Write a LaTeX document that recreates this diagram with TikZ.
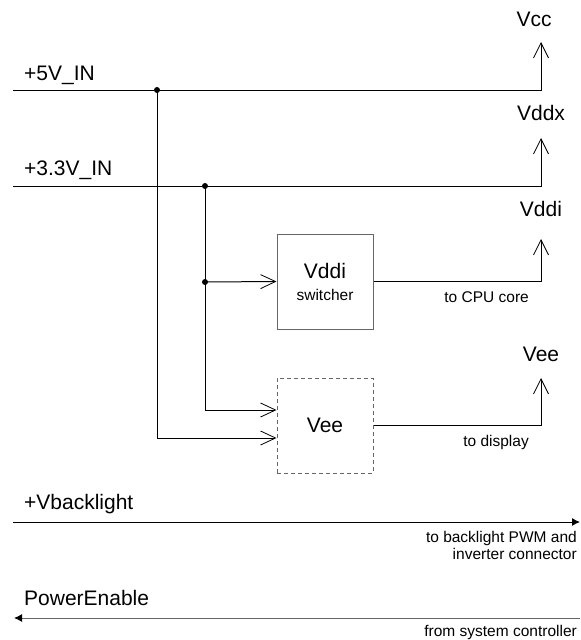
\documentclass[tikz,border=0pt]{standalone}
\usepackage{fontspec}
\setmainfont{Liberation Sans}
\usetikzlibrary{arrows.meta}

\begin{document}
\begin{tikzpicture}[
  x=1pt, y=-1pt,
  font=\fontsize{21}{25}\selectfont,
  small/.style={font=\fontsize{15.5}{17}\selectfont, inner sep=0pt},
  lbl/.style={inner sep=0pt, anchor=base west},
  rlbl/.style={inner sep=0pt, anchor=base},
  rail/.style={line width=1pt, black, -{Straight Barb[length=15pt,width=15pt,line width=0.8pt]}},
  feed/.style={line width=1pt, black, -{Straight Barb[length=15pt,width=14pt,line width=0.8pt]}},
  conv/.style={draw=black!60, line width=1pt, minimum width=96pt, minimum height=95pt,
               inner sep=0pt, align=center},
  maybe/.style={conv, dashed, dash pattern=on 4pt off 3pt},
  dot/.style={circle, fill=black, inner sep=0pt, minimum size=6pt},
  sig/.style={line width=1pt, -{Latex[length=8pt,width=8pt,color=black]}},
]
  \useasboundingbox (0,0) rectangle (581,640);

  % Input rails and their outputs
  \coordinate (in5) at (13,90);
  \coordinate (in33) at (13,186);
  \coordinate (vcctip) at (541,42);
  \coordinate (vddxtip) at (541,138);
  \coordinate (vdditip) at (541,239);
  \coordinate (veetip) at (541,378);
  \node[lbl] (l5) at (24,80) {+5V\_IN};
  \node[lbl] (l33) at (24,175) {+3.3V\_IN};
  \node[rlbl] (vcc) at (534,26) {Vcc};
  \node[rlbl] (vddx) at (541,120) {Vddx};
  \node[rlbl] (vddil) at (541,216) {Vddi};
  \node[rlbl] (veel) at (541,361) {Vee};

  \draw[rail] (in5) -| (vcctip);
  \draw[rail] (in33) -| (vddxtip);
  \node[dot] (j5) at (157,90) {};
  \node[dot] (j33) at (205,186) {};
  \node[dot] (j33b) at (205,282) {};

  % Converters
  \node[conv] (vddi) at (325,281.5) {Vddi\\[-3pt]{\fontsize{15.5}{17}\selectfont switcher}};
  \node[maybe] (vee) at (325,425.5) {Vee};

  \draw[line width=1pt] (j33.center) -- (j33b.center);
  \draw[feed] (j33b.center) -- (vddi.west);
  \draw[feed] (j33b.center) |- ([yshift=15.5pt]vee.west);
  \draw[feed] (j5.center) |- ([yshift=-12.5pt]vee.west);
  \draw[rail] (vddi.east) -| (vdditip);
  \draw[rail] (vee.east) -| (veetip);
  \node[small, anchor=base east] (cpu) at (529,302) {to CPU core};
  \node[small, anchor=base east] (disp) at (529,446) {to display};

  % Backlight supply and enable signal
  \coordinate (blin) at (13,522);
  \coordinate (blout) at (580,522);
  \coordinate (enin) at (580,618);
  \coordinate (enout) at (14,618);
  \node[lbl] (lbl) at (24,509) {+Vbacklight};
  \node[lbl] (len) at (24,605) {PowerEnable};
  \draw[sig, black] (blin) -- (blout);
  \draw[sig, black!60] (enin) -- (enout);
  \node[small, align=right, anchor=base east] (blnote) at (577,559)
    {to backlight PWM and\\ inverter connector};
  \node[small, anchor=base east] (ennote) at (577,636) {from system controller};
\end{tikzpicture}
\end{document}
